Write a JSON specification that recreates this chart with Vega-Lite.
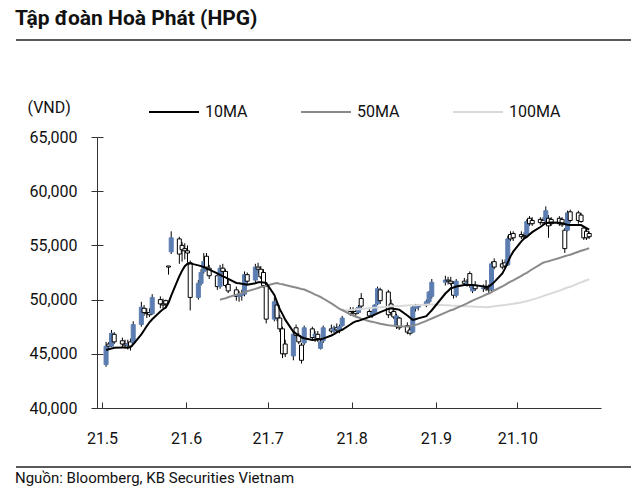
{
  "$schema": "https://vega.github.io/schema/vega-lite/v6.json",
  "background": "#ffffff",
  "padding": {"left": 15, "right": 10, "top": 8, "bottom": 4},
  "config": {
    "font": "Roboto",
    "view": {"stroke": null},
    "axis": {"labelFont": "Roboto", "titleFont": "Roboto"},
    "legend": {"labelFont": "Roboto"}
  },
  "title": {"text": "Tập đoàn Hoà Phát (HPG)", "anchor": "start", "font": "Roboto", "fontSize": 21, "fontWeight": "bold", "color": "#111111", "offset": 10},
  "spacing": 20,
  "resolve": {"scale": {"color": "independent"}, "legend": {"color": "independent"}},
  "datasets": {
    "hpg": [
      {"d":"2021-05-04","o":44000,"h":46100,"l":43800,"c":45700,"m10":45350,"m50":null,"m100":null},
      {"d":"2021-05-05","o":45900,"h":46100,"l":45400,"c":45700,"m10":45420,"m50":null,"m100":null},
      {"d":"2021-05-06","o":45700,"h":47200,"l":45600,"c":46900,"m10":45480,"m50":null,"m100":null},
      {"d":"2021-05-07","o":46800,"h":47000,"l":45900,"c":46100,"m10":45550,"m50":null,"m100":null},
      {"d":"2021-05-10","o":46200,"h":46500,"l":45600,"c":45900,"m10":45590,"m50":null,"m100":null},
      {"d":"2021-05-11","o":45900,"h":46300,"l":45500,"c":45800,"m10":45570,"m50":null,"m100":null},
      {"d":"2021-05-12","o":45800,"h":46300,"l":45400,"c":45900,"m10":45550,"m50":null,"m100":null},
      {"d":"2021-05-13","o":46100,"h":46400,"l":45300,"c":45700,"m10":45620,"m50":null,"m100":null},
      {"d":"2021-05-14","o":46000,"h":48000,"l":45900,"c":47700,"m10":45880,"m50":null,"m100":null},
      {"d":"2021-05-17","o":47700,"h":49800,"l":47500,"c":49300,"m10":46800,"m50":null,"m100":null},
      {"d":"2021-05-18","o":49200,"h":49500,"l":48500,"c":48800,"m10":47170,"m50":null,"m100":null},
      {"d":"2021-05-19","o":48800,"h":49200,"l":48300,"c":48700,"m10":47560,"m50":null,"m100":null},
      {"d":"2021-05-20","o":48800,"h":49200,"l":48400,"c":48600,"m10":47910,"m50":null,"m100":null},
      {"d":"2021-05-21","o":48700,"h":50500,"l":48600,"c":50200,"m10":48190,"m50":null,"m100":null},
      {"d":"2021-05-24","o":50000,"h":50300,"l":49200,"c":49600,"m10":48910,"m50":null,"m100":null},
      {"d":"2021-05-25","o":49600,"h":50100,"l":49200,"c":49500,"m10":49110,"m50":null,"m100":null},
      {"d":"2021-05-26","o":49900,"h":50000,"l":49200,"c":49600,"m10":49270,"m50":null,"m100":null},
      {"d":"2021-05-27","o":53100,"h":53100,"l":52300,"c":53000,"m10":49710,"m50":null,"m100":null},
      {"d":"2021-05-28","o":54400,"h":56300,"l":54200,"c":55700,"m10":50370,"m50":null,"m100":null},
      {"d":"2021-05-31","o":55600,"h":55800,"l":53300,"c":54200,"m10":52160,"m50":null,"m100":null},
      {"d":"2021-06-01","o":55000,"h":55300,"l":53500,"c":54600,"m10":52670,"m50":null,"m100":null},
      {"d":"2021-06-02","o":54700,"h":55200,"l":53700,"c":54500,"m10":53080,"m50":null,"m100":null},
      {"d":"2021-06-03","o":54500,"h":55000,"l":53400,"c":54300,"m10":53310,"m50":null,"m100":null},
      {"d":"2021-06-04","o":53400,"h":53600,"l":49000,"c":50200,"m10":53340,"m50":null,"m100":null},
      {"d":"2021-06-07","o":50200,"h":51800,"l":50000,"c":51500,"m10":53160,"m50":null,"m100":null},
      {"d":"2021-06-08","o":51500,"h":52800,"l":51300,"c":52500,"m10":53090,"m50":null,"m100":null},
      {"d":"2021-06-09","o":52600,"h":54300,"l":52400,"c":53500,"m10":52990,"m50":null,"m100":null},
      {"d":"2021-06-10","o":54000,"h":54300,"l":52700,"c":53000,"m10":52880,"m50":null,"m100":null},
      {"d":"2021-06-11","o":52900,"h":53200,"l":51900,"c":52200,"m10":52770,"m50":null,"m100":null},
      {"d":"2021-06-14","o":52200,"h":52400,"l":50900,"c":51200,"m10":52420,"m50":null,"m100":null},
      {"d":"2021-06-15","o":51200,"h":53200,"l":51000,"c":52900,"m10":52280,"m50":49990,"m100":null},
      {"d":"2021-06-16","o":52900,"h":53300,"l":52300,"c":52600,"m10":52140,"m50":50070,"m100":null},
      {"d":"2021-06-17","o":52600,"h":52800,"l":51100,"c":51300,"m10":52050,"m50":50130,"m100":null},
      {"d":"2021-06-18","o":51400,"h":51900,"l":50600,"c":50800,"m10":51920,"m50":50210,"m100":null},
      {"d":"2021-06-21","o":50900,"h":51200,"l":49900,"c":50300,"m10":51540,"m50":50460,"m100":null},
      {"d":"2021-06-22","o":50300,"h":50800,"l":49800,"c":50400,"m10":51510,"m50":50520,"m100":null},
      {"d":"2021-06-23","o":50400,"h":50900,"l":49900,"c":50500,"m10":51460,"m50":50600,"m100":null},
      {"d":"2021-06-24","o":50500,"h":52600,"l":50300,"c":52300,"m10":51420,"m50":50680,"m100":null},
      {"d":"2021-06-25","o":52300,"h":52500,"l":51400,"c":51700,"m10":51380,"m50":50770,"m100":null},
      {"d":"2021-06-28","o":51800,"h":53300,"l":51600,"c":53000,"m10":51510,"m50":50990,"m100":null},
      {"d":"2021-06-29","o":53000,"h":53400,"l":52400,"c":52800,"m10":51590,"m50":51070,"m100":null},
      {"d":"2021-06-30","o":52800,"h":53100,"l":51900,"c":52100,"m10":51600,"m50":51160,"m100":null},
      {"d":"2021-07-01","o":52500,"h":52800,"l":51100,"c":51300,"m10":51570,"m50":51210,"m100":null},
      {"d":"2021-07-02","o":51200,"h":51400,"l":47800,"c":48200,"m10":51540,"m50":51280,"m100":null},
      {"d":"2021-07-05","o":48200,"h":50200,"l":48000,"c":49800,"m10":50430,"m50":51480,"m100":null},
      {"d":"2021-07-06","o":49500,"h":49700,"l":48000,"c":48300,"m10":49770,"m50":51520,"m100":null},
      {"d":"2021-07-07","o":48300,"h":48600,"l":47000,"c":47300,"m10":49100,"m50":51450,"m100":null},
      {"d":"2021-07-08","o":47300,"h":47500,"l":44600,"c":45000,"m10":48660,"m50":51410,"m100":null},
      {"d":"2021-07-09","o":45900,"h":46300,"l":44700,"c":45000,"m10":48150,"m50":51340,"m100":null},
      {"d":"2021-07-12","o":44800,"h":47000,"l":44400,"c":46800,"m10":47040,"m50":51170,"m100":null},
      {"d":"2021-07-13","o":47400,"h":47700,"l":46500,"c":46700,"m10":46860,"m50":51110,"m100":null},
      {"d":"2021-07-14","o":46700,"h":46900,"l":45900,"c":46100,"m10":46690,"m50":51040,"m100":null},
      {"d":"2021-07-15","o":45800,"h":46000,"l":44100,"c":44400,"m10":46520,"m50":50980,"m100":null},
      {"d":"2021-07-16","o":46000,"h":47600,"l":45800,"c":47400,"m10":46440,"m50":50930,"m100":null},
      {"d":"2021-07-19","o":47300,"h":47500,"l":46200,"c":46500,"m10":46280,"m50":50590,"m100":null},
      {"d":"2021-07-20","o":46600,"h":47100,"l":46100,"c":46800,"m10":46300,"m50":50460,"m100":null},
      {"d":"2021-07-21","o":46800,"h":47100,"l":46100,"c":46400,"m10":46320,"m50":50370,"m100":null},
      {"d":"2021-07-22","o":45500,"h":46300,"l":45400,"c":46100,"m10":46350,"m50":50240,"m100":null},
      {"d":"2021-07-23","o":46200,"h":47600,"l":46000,"c":47400,"m10":46400,"m50":50100,"m100":null},
      {"d":"2021-07-26","o":47300,"h":47700,"l":46900,"c":47100,"m10":46690,"m50":49650,"m100":null},
      {"d":"2021-07-27","o":47100,"h":47600,"l":46900,"c":47400,"m10":46820,"m50":49490,"m100":null},
      {"d":"2021-07-28","o":47400,"h":47800,"l":47000,"c":47200,"m10":46970,"m50":49320,"m100":null},
      {"d":"2021-07-29","o":47200,"h":47700,"l":46900,"c":47500,"m10":47120,"m50":49150,"m100":null},
      {"d":"2021-07-30","o":47600,"h":48500,"l":47500,"c":48300,"m10":47220,"m50":49040,"m100":48980},
      {"d":"2021-08-02","o":48900,"h":49300,"l":48500,"c":48700,"m10":47700,"m50":48640,"m100":49050},
      {"d":"2021-08-03","o":48900,"h":49300,"l":48600,"c":48800,"m10":47870,"m50":48530,"m100":49070},
      {"d":"2021-08-04","o":48900,"h":49200,"l":48500,"c":48700,"m10":47990,"m50":48420,"m100":49100},
      {"d":"2021-08-05","o":48800,"h":49500,"l":48700,"c":49300,"m10":48040,"m50":48350,"m100":49120},
      {"d":"2021-08-06","o":50100,"h":50600,"l":49200,"c":49400,"m10":48130,"m50":48240,"m100":49140},
      {"d":"2021-08-09","o":48900,"h":49100,"l":48300,"c":48500,"m10":48410,"m50":48000,"m100":49220},
      {"d":"2021-08-10","o":48600,"h":49000,"l":48300,"c":48800,"m10":48490,"m50":47960,"m100":49230},
      {"d":"2021-08-11","o":48800,"h":49600,"l":48600,"c":49500,"m10":48610,"m50":47900,"m100":49260},
      {"d":"2021-08-12","o":49600,"h":51200,"l":49500,"c":51000,"m10":48730,"m50":47840,"m100":49280},
      {"d":"2021-08-13","o":50900,"h":51100,"l":49600,"c":49900,"m10":48850,"m50":47780,"m100":49300},
      {"d":"2021-08-16","o":50700,"h":50900,"l":48300,"c":48600,"m10":49140,"m50":47640,"m100":49350},
      {"d":"2021-08-17","o":49600,"h":50000,"l":48500,"c":48800,"m10":49210,"m50":47610,"m100":49370},
      {"d":"2021-08-18","o":48900,"h":49100,"l":48200,"c":48400,"m10":49160,"m50":47590,"m100":49390},
      {"d":"2021-08-19","o":47500,"h":48700,"l":47300,"c":48500,"m10":49120,"m50":47570,"m100":49400},
      {"d":"2021-08-20","o":48300,"h":48400,"l":47200,"c":47400,"m10":49060,"m50":47540,"m100":49420},
      {"d":"2021-08-23","o":47600,"h":47900,"l":46800,"c":47000,"m10":48530,"m50":47520,"m100":49460},
      {"d":"2021-08-24","o":47200,"h":47500,"l":46700,"c":46900,"m10":48330,"m50":47530,"m100":49470},
      {"d":"2021-08-25","o":47000,"h":49500,"l":46900,"c":49300,"m10":48130,"m50":47600,"m100":49480},
      {"d":"2021-08-26","o":49200,"h":49600,"l":48900,"c":49400,"m10":48190,"m50":47670,"m100":49490},
      {"d":"2021-08-27","o":49300,"h":49600,"l":49000,"c":49500,"m10":48270,"m50":47740,"m100":49500},
      {"d":"2021-08-30","o":49500,"h":50000,"l":49300,"c":49800,"m10":48470,"m50":48040,"m100":49530},
      {"d":"2021-08-31","o":49800,"h":50800,"l":49600,"c":50700,"m10":48750,"m50":48150,"m100":49540},
      {"d":"2021-09-01","o":50300,"h":51900,"l":50100,"c":51600,"m10":49020,"m50":48260,"m100":49550},
      {"d":"2021-09-06","o":51600,"h":52200,"l":51300,"c":51800,"m10":50560,"m50":48800,"m100":49480},
      {"d":"2021-09-07","o":51800,"h":52100,"l":51400,"c":51700,"m10":50800,"m50":48910,"m100":49470},
      {"d":"2021-09-08","o":51700,"h":52100,"l":51300,"c":51500,"m10":51050,"m50":49020,"m100":49450},
      {"d":"2021-09-09","o":51500,"h":51700,"l":50100,"c":50400,"m10":51120,"m50":49090,"m100":49440},
      {"d":"2021-09-10","o":50400,"h":51900,"l":50200,"c":51700,"m10":51200,"m50":49210,"m100":49430},
      {"d":"2021-09-13","o":51700,"h":52000,"l":51300,"c":51500,"m10":51350,"m50":49530,"m100":49390},
      {"d":"2021-09-14","o":51500,"h":51900,"l":51200,"c":51600,"m10":51350,"m50":49650,"m100":49380},
      {"d":"2021-09-15","o":52400,"h":52600,"l":51100,"c":51300,"m10":51350,"m50":49780,"m100":49370},
      {"d":"2021-09-16","o":50800,"h":51400,"l":50600,"c":51200,"m10":51350,"m50":49900,"m100":49360},
      {"d":"2021-09-17","o":51300,"h":51700,"l":50800,"c":51000,"m10":51320,"m50":50020,"m100":49350},
      {"d":"2021-09-20","o":51000,"h":51400,"l":50700,"c":51100,"m10":51220,"m50":50350,"m100":49320},
      {"d":"2021-09-21","o":51100,"h":51800,"l":50800,"c":51000,"m10":51180,"m50":50470,"m100":49300},
      {"d":"2021-09-22","o":51000,"h":51400,"l":50600,"c":50900,"m10":51210,"m50":50560,"m100":49310},
      {"d":"2021-09-23","o":50900,"h":53500,"l":50800,"c":53300,"m10":51400,"m50":50700,"m100":49350},
      {"d":"2021-09-24","o":53500,"h":53800,"l":52800,"c":53000,"m10":51610,"m50":50840,"m100":49380},
      {"d":"2021-09-27","o":53300,"h":53700,"l":52800,"c":53000,"m10":52420,"m50":51220,"m100":49480},
      {"d":"2021-09-28","o":53400,"h":53700,"l":52900,"c":53100,"m10":52880,"m50":51360,"m100":49510},
      {"d":"2021-09-29","o":53200,"h":55900,"l":53100,"c":55600,"m10":53430,"m50":51510,"m100":49550},
      {"d":"2021-09-30","o":56000,"h":56300,"l":55400,"c":55600,"m10":53990,"m50":51650,"m100":49580},
      {"d":"2021-10-01","o":56100,"h":56300,"l":55400,"c":55700,"m10":54420,"m50":51770,"m100":49610},
      {"d":"2021-10-04","o":56000,"h":56300,"l":55600,"c":55800,"m10":55370,"m50":52190,"m100":49730},
      {"d":"2021-10-05","o":55900,"h":56200,"l":55600,"c":55800,"m10":55630,"m50":52350,"m100":49810},
      {"d":"2021-10-06","o":56000,"h":57400,"l":55900,"c":57200,"m10":55780,"m50":52470,"m100":49850},
      {"d":"2021-10-07","o":57500,"h":57700,"l":56800,"c":57000,"m10":56000,"m50":52640,"m100":49930},
      {"d":"2021-10-08","o":57300,"h":57600,"l":56800,"c":57000,"m10":56220,"m50":52800,"m100":50000},
      {"d":"2021-10-11","o":57400,"h":57600,"l":56900,"c":57100,"m10":56700,"m50":53250,"m100":50230},
      {"d":"2021-10-12","o":57300,"h":57600,"l":56900,"c":57100,"m10":56880,"m50":53400,"m100":50320},
      {"d":"2021-10-13","o":57300,"h":58600,"l":57200,"c":58200,"m10":57050,"m50":53480,"m100":50420},
      {"d":"2021-10-14","o":57500,"h":57800,"l":55700,"c":56800,"m10":57080,"m50":53540,"m100":50480},
      {"d":"2021-10-15","o":57400,"h":57600,"l":56800,"c":57000,"m10":57110,"m50":53620,"m100":50570},
      {"d":"2021-10-18","o":57500,"h":57700,"l":56800,"c":57000,"m10":57100,"m50":53840,"m100":50830},
      {"d":"2021-10-19","o":57400,"h":57600,"l":56700,"c":56900,"m10":57040,"m50":53920,"m100":50920},
      {"d":"2021-10-20","o":56400,"h":56600,"l":54300,"c":54700,"m10":56970,"m50":54000,"m100":51020},
      {"d":"2021-10-21","o":56400,"h":58200,"l":56300,"c":58000,"m10":56910,"m50":54080,"m100":51110},
      {"d":"2021-10-22","o":58100,"h":58300,"l":57100,"c":57300,"m10":56880,"m50":54140,"m100":51180},
      {"d":"2021-10-25","o":58000,"h":58200,"l":57000,"c":57300,"m10":56880,"m50":54410,"m100":51500},
      {"d":"2021-10-26","o":57800,"h":58000,"l":57100,"c":57200,"m10":56880,"m50":54500,"m100":51590},
      {"d":"2021-10-27","o":56600,"h":56800,"l":55500,"c":55700,"m10":56740,"m50":54580,"m100":51690},
      {"d":"2021-10-28","o":56300,"h":56600,"l":55500,"c":55700,"m10":56600,"m50":54660,"m100":51780},
      {"d":"2021-10-29","o":56100,"h":56300,"l":55600,"c":55800,"m10":56460,"m50":54740,"m100":51880}
    ]
  },
  "vconcat": [
    {
      "width": 615,
      "height": 26,
      "data": {"values": [{"v": 1}]},
      "mark": {"type": "rule", "color": "#595959", "strokeWidth": 2},
      "encoding": {"y": {"field": "v", "type": "quantitative", "scale": {"domain": [0, 1]}, "axis": null}}
    },
    {
      "spacing": 10,
      "resolve": {"scale": {"color": "independent"}, "legend": {"color": "independent"}},
      "hconcat": [
        {"width": 1, "height": 271, "data": {"values": []}, "mark": "rule", "encoding": {}},
        {
          "width": 504,
          "height": 271,
          "data": {"name": "hpg"},
          "resolve": {"axis": {"y": "independent"}},
          "encoding": {
            "x": {
              "field": "d",
              "type": "temporal",
              "scale": {
                "type": "utc",
                "domain": [
                  {"year": 2021, "month": 5, "date": 2, "hours": 12, "utc": true},
                  {"year": 2021, "month": 10, "date": 31, "hours": 12, "utc": true}
                ]
              },
              "axis": {
                "title": null,
                "values": [
                  {"year": 2021, "month": 5, "date": 2, "hours": 12, "utc": true},
                  {"year": 2021, "month": 6, "date": 2, "hours": 12, "utc": true},
                  {"year": 2021, "month": 7, "date": 2, "hours": 12, "utc": true},
                  {"year": 2021, "month": 8, "date": 2, "hours": 12, "utc": true},
                  {"year": 2021, "month": 9, "date": 2, "hours": 12, "utc": true},
                  {"year": 2021, "month": 10, "date": 2, "hours": 12, "utc": true}
                ],
                "labelExpr": "utcFormat(datum.value, '%y.%-m')",
                "labelFontSize": 16,
                "labelColor": "#111111",
                "labelFlush": false,
                "tickSize": -6,
                "labelPadding": 28,
                "tickColor": "#333333",
                "domainColor": "#333333",
                "grid": false
              }
            }
          },
          "layer": [
            {
              "mark": {"type": "rule", "color": "#000000", "strokeWidth": 1},
              "encoding": {
                "y": {
                  "field": "l",
                  "type": "quantitative",
                  "scale": {"domain": [40000, 65000], "nice": false, "zero": false},
                  "axis": {
                    "orient": "left",
                    "title": "(VND)",
                    "titleAngle": 0,
                    "titleAlign": "left",
                    "titleBaseline": "middle",
                    "titleX": -70,
                    "titleY": -30,
                    "titleFontSize": 16,
                    "titleFontWeight": "normal",
                    "titleColor": "#111111",
                    "values": [40000, 45000, 50000, 55000, 60000, 65000],
                    "format": ",d",
                    "labelFontSize": 16,
                    "labelColor": "#111111",
                    "labelPadding": 14,
                    "tickSize": 6,
                    "tickColor": "#333333",
                    "domainColor": "#333333",
                    "grid": false
                  }
                },
                "y2": {"field": "h"}
              }
            },
            {
              "mark": {"type": "bar", "width": 4, "strokeWidth": 1},
              "encoding": {
                "y": {"field": "o", "type": "quantitative", "axis": null},
                "y2": {"field": "c"},
                "fill": {"condition": {"test": "datum.c > datum.o", "value": "#5b7db1"}, "value": "#ffffff"},
                "stroke": {"condition": {"test": "datum.c > datum.o", "value": "#5b7db1"}, "value": "#000000"}
              }
            },
            {
              "mark": {"type": "line", "strokeWidth": 2},
              "encoding": {
                "y": {
                  "field": "m100",
                  "type": "quantitative",
                  "axis": {
                    "orient": "left",
                    "title": null,
                    "labels": false,
                    "domain": false,
                    "values": [40000, 45000, 50000, 55000, 60000, 65000],
                    "tickSize": -6,
                    "tickColor": "#333333",
                    "grid": false
                  }
                },
                "color": {
                  "datum": "100MA",
                  "scale": {"domain": ["10MA", "50MA", "100MA"], "range": ["#000000", "#8a8a8a", "#d9d9d9"]},
                  "legend": {
                    "title": null,
                    "orient": "none",
                    "legendX": 51,
                    "legendY": -51,
                    "direction": "horizontal",
                    "symbolType": "stroke",
                    "symbolSize": 2500,
                    "symbolStrokeWidth": 2,
                    "labelFontSize": 16,
                    "labelColor": "#111111",
                    "labelOffset": 5,
                    "columnPadding": 40,
                    "gridAlign": "all",
                    "padding": 0
                  }
                }
              }
            },
            {
              "mark": {"type": "line", "strokeWidth": 2},
              "encoding": {
                "y": {"field": "m50", "type": "quantitative", "axis": null},
                "color": {"datum": "50MA"}
              }
            },
            {
              "mark": {"type": "line", "strokeWidth": 2},
              "encoding": {
                "y": {"field": "m10", "type": "quantitative", "axis": null},
                "color": {"datum": "10MA"}
              }
            }
          ]
        }
      ]
    },
    {
      "width": 615,
      "height": 1,
      "data": {"values": [{"v": 1}]},
      "mark": {"type": "rule", "color": "#595959", "strokeWidth": 2},
      "encoding": {"y": {"field": "v", "type": "quantitative", "scale": {"domain": [0, 1]}, "axis": null}},
      "title": {"text": "Nguồn: Bloomberg, KB Securities Vietnam", "orient": "bottom", "anchor": "start", "fontSize": 15, "fontWeight": "normal", "color": "#111111", "offset": 3}
    }
  ]
}
